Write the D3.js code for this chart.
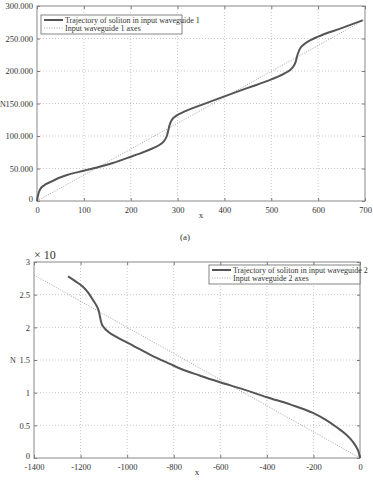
<!DOCTYPE html>
<html>
<head>
<meta charset="utf-8">
<style>
body { margin:0; background:#fff; }
text { font-family: "Liberation Serif", serif; fill:#333; }
.tick text { font-size:8.5px; }
.grid line { stroke:#bbb; stroke-dasharray:1,2; stroke-width:0.8px; }
.frame { fill:none; stroke:#888; stroke-width:1px; }
.traj { fill:none; stroke:#555; stroke-width:2px; }
.axisl { fill:none; stroke:#999; stroke-width:0.9px; stroke-dasharray:1,1.5; }
.leg { font-size:8px; fill:#333; }
</style>
<script src="https://d3js.org/d3.v7.min.js"></script>
</head>
<body>
<script>

// chart (a)
var trajX1 = [0,2,6,15,28,45,64,100,130,160,200,230,250,265,272,277,280,283,288,297,310,350,400,450,500,530,545,552,556,561,570,585,600,650,695];
var trajN1 = [0,8000,17000,24000,29000,35000,40000,46500,52000,58000,68000,76000,82000,88000,93000,100000,108000,117000,125000,131000,136000,147500,161000,174000,187000,197000,205000,214000,225000,234000,241000,248000,253000,266000,278000];
var axisX1 = [0,697];
var axisN1 = [0,278000];
var xTicks1 = [0,100,200,300,400,500,600,700];
var yTicks1 = [0,50000,100000,150000,200000,250000,300000];
var yLabels1 = ["0","50.000","100.000","150.000","200.000","250.000","300.000"];

// chart (b)
var trajX2 = [-1254,-1220,-1190,-1165,-1147,-1130,-1121,-1116,-1110,-1100,-1080,-1044,-975,-900,-816,-773,-687,-601,-500,-400,-300,-202,-150,-100,-60,-43,-25,-13,-5,0];
var trajN2 = [2.78,2.70,2.62,2.52,2.42,2.32,2.24,2.15,2.06,2.00,1.93,1.85,1.72,1.58,1.44,1.37,1.26,1.16,1.05,0.93,0.82,0.69,0.59,0.47,0.36,0.30,0.22,0.15,0.08,0];
var axisX2 = [-1400,0];
var axisN2 = [2.8,0];
var xTicks2 = [-1400,-1200,-1000,-800,-600,-400,-200,0];
var yTicks2 = [0,0.5,1,1.5,2,2.5,3];
var yLabels2 = ["0","0.5","1","1.5","2","2.5","3"];

var svg = d3.select("body").append("svg")
  .attr("width", 373).attr("height", 482);

function drawChart(o) {
  var x = d3.scaleLinear().domain(o.xdom).range([o.left, o.right]);
  var y = d3.scaleLinear().domain(o.ydom).range([o.bottom, o.top]);
  var g = svg.append("g");

  // grid
  var grid = g.append("g").attr("class", "grid");
  grid.selectAll(".gx").data(o.xTicks.slice(1, -1)).enter().append("line")
    .attr("x1", function(d){ return x(d); }).attr("x2", function(d){ return x(d); })
    .attr("y1", o.top).attr("y2", o.bottom);
  grid.selectAll(".gy").data(o.yTicks.slice(1, -1)).enter().append("line")
    .attr("y1", function(d){ return y(d); }).attr("y2", function(d){ return y(d); })
    .attr("x1", o.left).attr("x2", o.right);

  // axes with inward ticks
  g.append("g").attr("transform", "translate(0," + o.bottom + ")")
    .call(d3.axisBottom(x).tickValues(o.xTicks).tickSizeInner(-3).tickSizeOuter(0).tickPadding(6)
      .tickFormat(function(d){ return String(d); }));
  var ay = g.append("g").attr("transform", "translate(" + o.left + ",0)")
    .call(d3.axisLeft(y).tickValues(o.yTicks).tickSizeInner(-3).tickSizeOuter(0).tickPadding(4)
      .tickFormat(function(d, i){ return o.yLabels[i]; }));
  // zero label sits a little above the corner
  ay.selectAll(".tick text").filter(function(d){ return d === 0; }).attr("dy", "0.1em");
  g.append("g").attr("transform", "translate(0," + o.top + ")")
    .call(d3.axisTop(x).tickValues(o.xTicks).tickSizeInner(-3).tickSizeOuter(0).tickFormat(""));
  g.append("g").attr("transform", "translate(" + o.right + ",0)")
    .call(d3.axisRight(y).tickValues(o.yTicks).tickSizeInner(-3).tickSizeOuter(0).tickFormat(""));
  g.selectAll(".domain").remove();
  g.selectAll(".tick line").attr("stroke", "#777");
  g.selectAll(".tick text").attr("fill", "#333");

  g.append("rect").attr("class", "frame")
    .attr("x", o.left).attr("y", o.top)
    .attr("width", o.right - o.left).attr("height", o.bottom - o.top);

  var line = d3.line().x(function(d){ return x(d[0]); }).y(function(d){ return y(d[1]); });

  g.append("path").attr("class", "axisl")
    .attr("d", line(d3.zip(o.axisX, o.axisN)));
  g.append("path").attr("class", "traj")
    .attr("d", line.curve(d3.curveMonotoneX)(d3.zip(o.trajX, o.trajN)));

  // legend
  var lg = g.append("g").attr("transform", "translate(" + o.legX + "," + o.legY + ")");
  lg.append("rect").attr("width", o.legW).attr("height", 19)
    .attr("fill", "#fff").attr("stroke", "#666").attr("stroke-width", 0.8);
  lg.append("line").attr("x1", 3).attr("x2", 22).attr("y1", 5).attr("y2", 5)
    .attr("stroke", "#555").attr("stroke-width", 2);
  lg.append("line").attr("x1", 3).attr("x2", 22).attr("y1", 13).attr("y2", 13)
    .attr("class", "axisl");
  lg.append("text").attr("class", "leg").attr("x", 24).attr("y", 7.5).text(o.leg1);
  lg.append("text").attr("class", "leg").attr("x", 24).attr("y", 15.5).text(o.leg2);

  // labels
  g.append("text").attr("x", (o.left + o.right) / 2).attr("y", o.bottom + 17)
    .attr("font-size", 9).attr("text-anchor", "middle").text("x");
  g.append("text").attr("x", o.nx).attr("y", y(o.ydom[1] / 2) + 3)
    .attr("font-size", 8).text("N");
}

drawChart({
  xdom: [0, 700], ydom: [0, 300000], left: 37, right: 365, top: 6, bottom: 201,
  xTicks: xTicks1, yTicks: yTicks1, yLabels: yLabels1,
  trajX: trajX1, trajN: trajN1, axisX: axisX1, axisN: axisN1,
  legX: 41, legY: 15, legW: 141,
  leg1: "Trajectory of soliton in input waveguide 1", leg2: "Input waveguide 1 axes",
  nx: 0
});

svg.append("text").attr("x", 185).attr("y", 240).attr("font-size", 9)
  .attr("text-anchor", "middle").text("(a)");

drawChart({
  xdom: [-1400, 0], ydom: [0, 3], left: 34, right: 360, top: 262, bottom: 458,
  xTicks: xTicks2, yTicks: yTicks2, yLabels: yLabels2,
  trajX: trajX2, trajN: trajN2, axisX: axisX2, axisN: axisN2,
  legX: 209, legY: 265, legW: 151,
  leg1: "Trajectory of soliton in input waveguide 2", leg2: "Input waveguide 2 axes",
  nx: 10
});

svg.append("text").attr("x", 34).attr("y", 259).attr("font-size", 12).text("\u00d7 10");

</script>
</body>
</html>
